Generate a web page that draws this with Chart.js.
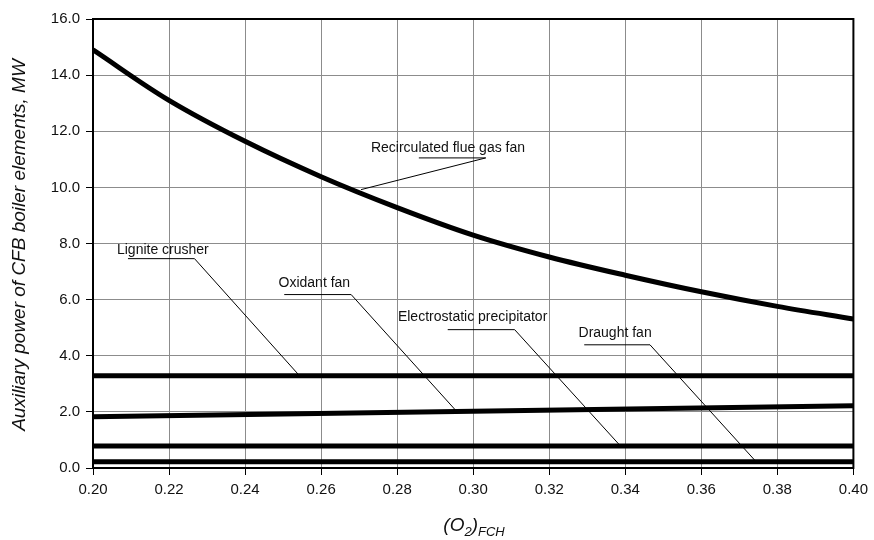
<!DOCTYPE html>
<html>
<head>
<meta charset="utf-8">
<script src="https://cdn.jsdelivr.net/npm/chart.js@4"></script>
<style>
  html, body { margin: 0; padding: 0; background: #fff; }
  #wrap { width: 874px; height: 540px; }
</style>
</head>
<body>
<div id="wrap"><canvas id="chart"></canvas></div>
<script>
// values
var o2Values = [0.20, 0.22, 0.24, 0.26, 0.28, 0.30, 0.32, 0.34, 0.36, 0.38, 0.40];
var recircFan = [14.90, 13.10, 11.64, 10.38, 9.28, 8.30, 7.52, 6.87, 6.28, 5.76, 5.31];
var endsX = [0.20, 0.40];
var ligniteCrusher = [3.29, 3.29];
var oxidantFan = [1.83, 2.22];
var electroPrecip = [0.78, 0.78];
var draughtFan = [0.22, 0.22];

var yTicks = [0, 2, 4, 6, 8, 10, 12, 14, 16];

// callout labels: text start, leader shelf and the point it touches (data units)
var calloutText = ['Recirculated flue gas fan', 'Lignite crusher', 'Oxidant fan', 'Electrostatic precipitator', 'Draught fan'];
var calloutTextX = [0.2731, 0.2063, 0.2488, 0.2802, 0.3277];
var calloutTextY = [11.41, 7.75, 6.57, 5.36, 4.82];
var shelfX1 = [0.2857, 0.2092, 0.2503, 0.2933, 0.3292];
var shelfX2 = [0.3033, 0.2267, 0.2679, 0.3109, 0.3465];
var shelfY = [11.05, 7.46, 6.18, 4.93, 4.39];
var tipX = [0.2705, 0.2543, 0.2957, 0.3387, 0.3743];
var tipY = [9.92, 3.29, 2.01, 0.79, 0.24];

function pts(xs, ys) {
    return xs.map((x, i) => ({ x: x, y: ys[i] }));
}

function lineSet(label, data, smooth) {
    return {
        label: label,
        data: data,
        borderColor: '#000',
        borderWidth: 5,
        pointRadius: 0,
        fill: false,
        tension: smooth ? 0.35 : 0
    };
}

const fontFam = '"Liberation Sans", Arial, sans-serif';

const extras = {
    id: 'extras',
    afterDatasetsDraw(chart) {
        const ctx = chart.ctx;
        const a = chart.chartArea;
        const xs = chart.scales.x, ys = chart.scales.y;
        ctx.save();
        // frame
        ctx.strokeStyle = '#000';
        ctx.lineWidth = 2;
        ctx.strokeRect(a.left, a.top, a.right - a.left, a.bottom - a.top);

        // callouts
        ctx.lineWidth = 1;
        ctx.fillStyle = '#111';
        ctx.font = '14px ' + fontFam;
        ctx.textBaseline = 'middle';
        ctx.textAlign = 'left';
        calloutText.forEach((t, i) => {
            ctx.fillText(t, xs.getPixelForValue(calloutTextX[i]), ys.getPixelForValue(calloutTextY[i]));
            ctx.beginPath();
            ctx.moveTo(xs.getPixelForValue(shelfX1[i]), ys.getPixelForValue(shelfY[i]));
            ctx.lineTo(xs.getPixelForValue(shelfX2[i]), ys.getPixelForValue(shelfY[i]));
            ctx.lineTo(xs.getPixelForValue(tipX[i]), ys.getPixelForValue(tipY[i]));
            ctx.stroke();
        });

        // y title
        ctx.save();
        ctx.translate(20, 245);
        ctx.rotate(-Math.PI / 2);
        ctx.textAlign = 'center';
        ctx.font = 'italic 19px ' + fontFam;
        ctx.fillText('Auxiliary power of CFB boiler elements, MW', 0, 0);
        ctx.restore();

        // x title (O2)FCH with subscripts
        const parts = [['(O', 19, 0], ['2', 13, 5], [')', 19, 0], ['FCH', 13, 5]];
        let w = 0;
        parts.forEach(p => { ctx.font = 'italic ' + p[1] + 'px ' + fontFam; w += ctx.measureText(p[0]).width; });
        let x = 474 - w / 2;
        ctx.textBaseline = 'alphabetic';
        parts.forEach(p => {
            ctx.font = 'italic ' + p[1] + 'px ' + fontFam;
            ctx.fillText(p[0], x, 531 + p[2]);
            x += ctx.measureText(p[0]).width;
        });
        ctx.restore();
    }
};

const ctx = document.getElementById('chart');
var chart = new Chart(ctx, {
    type: 'line',
    data: {
        datasets: [
            lineSet('Recirculated flue gas fan', pts(o2Values, recircFan), true),
            lineSet('Lignite crusher', pts(endsX, ligniteCrusher), false),
            lineSet('Oxidant fan', pts(endsX, oxidantFan), false),
            lineSet('Electrostatic precipitator', pts(endsX, electroPrecip), false),
            lineSet('Draught fan', pts(endsX, draughtFan), false)
        ]
    },
    options: {
        responsive: true,
        maintainAspectRatio: false,
        animation: false,
        layout: { padding: { top: 19, right: 16, left: 0, bottom: 0 } },
        plugins: { legend: { display: false }, tooltip: { enabled: false } },
        scales: {
            x: {
                type: 'linear',
                min: 0.2,
                max: 0.4,
                afterBuildTicks: s => { s.ticks = o2Values.map(v => ({ value: v })); },
                afterFit: s => { s.height = 72; },
                ticks: {
                    callback: v => Number(v).toFixed(2),
                    color: '#111',
                    font: { family: fontFam, size: 15 },
                    padding: 6,
                    maxRotation: 0
                },
                grid: { color: '#8c8c8c', lineWidth: 1, tickColor: '#000', tickLength: 7 },
                border: { color: '#000', width: 2 }
            },
            y: {
                min: 0,
                max: 16,
                afterBuildTicks: s => { s.ticks = yTicks.map(v => ({ value: v })); },
                afterFit: s => { s.width = 93; },
                ticks: {
                    callback: v => Number(v).toFixed(1),
                    color: '#111',
                    font: { family: fontFam, size: 15 },
                    padding: 6
                },
                grid: { color: '#8c8c8c', lineWidth: 1, tickColor: '#000', tickLength: 7 },
                border: { color: '#000', width: 2 }
            }
        }
    },
    plugins: [extras]
});
</script>
</body>
</html>
